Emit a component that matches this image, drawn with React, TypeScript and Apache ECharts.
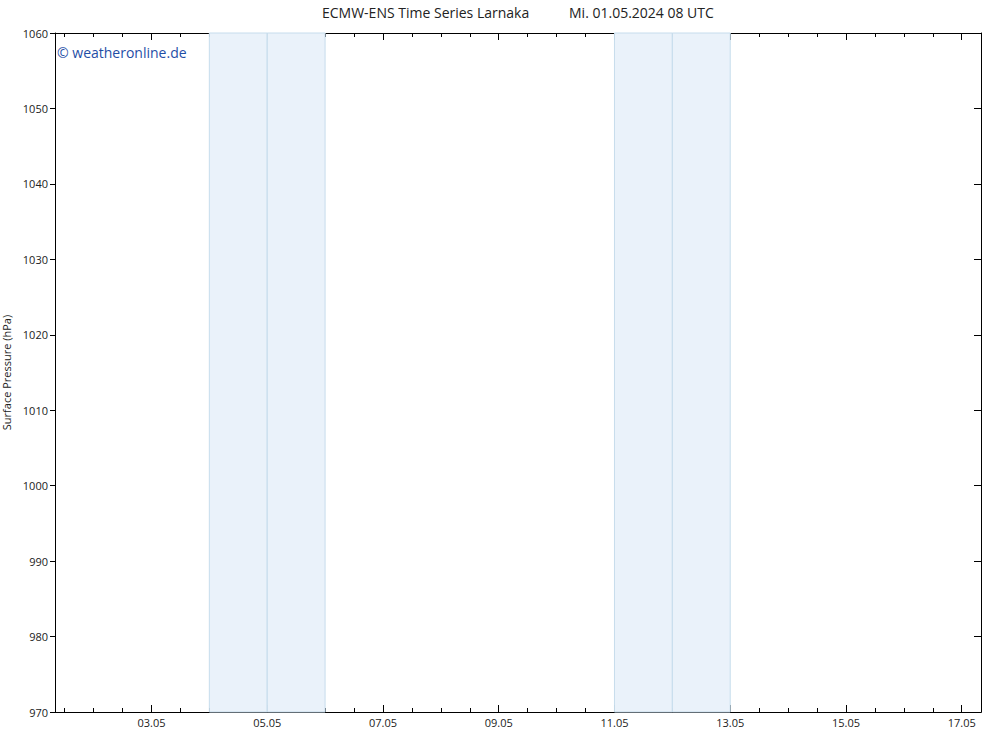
import React, { useEffect, useRef } from "react";
import * as echarts from "echarts";

const TITLE_LEFT = "ECMW-ENS Time Series Larnaka";
const TITLE_RIGHT = "Mi. 01.05.2024 08 UTC";
const Y_NAME = "Surface Pressure (hPa)";
const WATERMARK = "© weatheronline.de";

// x range in hours since 01.05.2024 00 UTC
const X_MIN_H = 8;
const X_MAX_H = 392;
const labelDates = ["03.05", "05.05", "07.05", "09.05", "11.05", "13.05", "15.05", "17.05"];
const weekendDays = ["04.05", "05.05", "11.05", "12.05"];
const yMin = 970;
const yMax = 1060;
const yInterval = 10;

const START = Date.UTC(2024, 4, 1, 0);
function hoursOf(d: string): number {
  const [dd, mm] = d.split(".").map(Number);
  return (Date.UTC(2024, mm - 1, dd) - START) / 3600000;
}
function labelOf(h: number): string {
  const dt = new Date(START + h * 3600000);
  const dd = String(dt.getUTCDate()).padStart(2, "0");
  const mm = String(dt.getUTCMonth() + 1).padStart(2, "0");
  return dd + "." + mm;
}

const shortTicks: number[] = [];
for (let h = 12; h <= X_MAX_H; h += 12) shortTicks.push(h);
const longTicks = labelDates.map(hoursOf);

const FONT = "Open Sans";

export default function App() {
  const ref = useRef<HTMLDivElement>(null);
  useEffect(() => {
    if (!ref.current) return;
    const chart = echarts.init(ref.current, null, { renderer: "svg" });
    const baseX = (pos: "top" | "bottom", ticks: number[], len: number, labels: boolean) => ({
      type: "value",
      position: pos,
      min: X_MIN_H,
      max: X_MAX_H,
      splitLine: { show: false },
      axisLine: { show: true, lineStyle: { color: "#000", width: 1 } },
      axisTick: {
        show: true,
        inside: true,
        length: len,
        customValues: ticks,
        lineStyle: { color: "#000", width: 1 },
      },
      axisLabel: labels
        ? {
            show: true,
            customValues: longTicks,
            formatter: (v: number) => labelOf(v),
            fontFamily: FONT,
            fontSize: 11,
            color: "#222",
            margin: 5,
          }
        : { show: false },
    });
    const weekendAreas = weekendDays.map((d) => {
      const s = hoursOf(d);
      return [{ xAxis: s }, { xAxis: s + 24 }];
    });
    chart.setOption({
      animation: false,
      grid: {
        left: 55,
        right: 19,
        top: 33,
        bottom: 21,
        containLabel: false,
        outerBoundsMode: "none",
      },
      xAxis: [
        baseX("bottom", shortTicks, 4, false),
        baseX("bottom", longTicks, 7, true),
        baseX("top", shortTicks, 4, false),
        baseX("top", longTicks, 7, false),
      ],
      yAxis: [
        {
          type: "value",
          position: "left",
          min: yMin,
          max: yMax,
          interval: yInterval,
          name: Y_NAME,
          nameLocation: "middle",
          nameGap: 39,
          nameTextStyle: { fontFamily: FONT, fontSize: 11, color: "#222" },
          splitLine: { show: false },
          axisLine: { show: true, lineStyle: { color: "#000", width: 1 } },
          axisTick: { show: true, inside: false, length: 5, lineStyle: { color: "#000" } },
          axisLabel: {
            fontFamily: FONT,
            fontSize: 11,
            color: "#222",
            margin: 7,
            formatter: (v: number) => String(v),
          },
        },
        {
          type: "value",
          position: "right",
          min: yMin,
          max: yMax,
          interval: yInterval,
          splitLine: { show: false },
          axisLine: { show: true, lineStyle: { color: "#000", width: 1 } },
          axisTick: { show: true, inside: true, length: 7, lineStyle: { color: "#000" } },
          axisLabel: { show: false },
        },
      ],
      series: [
        {
          type: "line",
          xAxisIndex: 0,
          yAxisIndex: 0,
          data: [],
          silent: true,
          markArea: {
            silent: true,
            itemStyle: { color: "#eaf2fa", borderColor: "#c6dcec", borderWidth: 1 },
            data: weekendAreas,
          },
        },
      ],
      graphic: [
        {
          type: "text",
          left: 322,
          top: 5,
          style: { text: TITLE_LEFT, fontFamily: FONT, fontSize: 14, fill: "#222" },
        },
        {
          type: "text",
          left: 569,
          top: 5,
          style: { text: TITLE_RIGHT, fontFamily: FONT, fontSize: 14, fill: "#222" },
        },
        {
          type: "text",
          left: 57,
          top: 45,
          style: { text: WATERMARK, fontFamily: FONT, fontSize: 14, fill: "#1f4ea6" },
        },
      ],
    });
    return () => chart.dispose();
  }, []);
  return (
    <div
      ref={ref}
      style={{ position: "fixed", left: 0, top: 0, width: 1000, height: 733, background: "#fff" }}
    />
  );
}
